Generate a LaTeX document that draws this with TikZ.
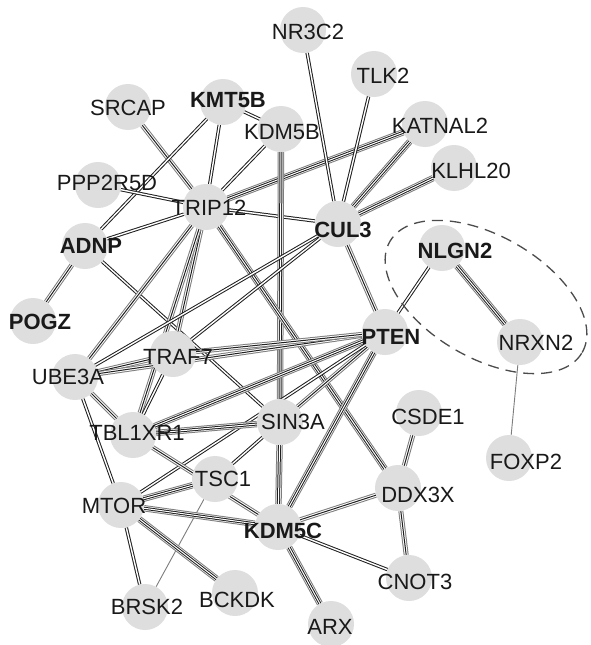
\documentclass[tikz,border=0pt]{standalone}
\usepackage{fontspec}
\setmainfont{Liberation Sans}
\usetikzlibrary{backgrounds,shapes.geometric}
\definecolor{nodefill}{RGB}{222,222,222}
\definecolor{txt}{RGB}{25,25,25}
\definecolor{lg}{RGB}{125,125,125}
\definecolor{dk}{RGB}{30,30,30}
\begin{document}
\begin{tikzpicture}[x=1pt,y=-1pt,
  gene/.style={circle, fill=nodefill, minimum size=46pt, inner sep=0pt},
  lbl/.style={inner sep=0pt, text=txt, font=\fontsize{22}{24}\selectfont},
  blbl/.style={inner sep=0pt, text=txt, font=\fontsize{22}{24}\selectfont\bfseries},
  eone/.style={draw=lg, line width=0.9pt},
  etwo/.style={draw=dk, line width=1.0pt, double=white, double distance=1.4pt},
  ethree/.style={draw=lg, line width=1.0pt, double=white, double distance=3.0pt,
    postaction={draw=dk, line width=1.0pt, double=none}},
  efour/.style={draw=lg, line width=1.0pt, double=white, double distance=4.4pt,
    postaction={draw=dk, line width=1.0pt, double=white, double distance=1.0pt}},
  grp/.style={draw=black!70, ellipse, dash pattern=on 11pt off 7pt, line width=1.3pt,
    minimum width=222pt, minimum height=122pt, inner sep=0pt}
]
\useasboundingbox (0,0) rectangle (590,645);

% gene circles
\node[gene] (NRthreeC2) at (303,30) {};
\node[gene] (TLK2) at (374,74) {};
\node[gene] (SRCAP) at (128,107) {};
\node[gene] (KMT5B) at (223,102) {};
\node[gene] (KDM5B) at (281,129) {};
\node[gene] (KATNAL2) at (425,124) {};
\node[gene] (PPP2R5D) at (98,185) {};
\node[gene] (KLHL20) at (454,168) {};
\node[gene] (TRIP12) at (206,207) {};
\node[gene] (CUL3) at (338,224) {};
\node[gene] (ADNP) at (85,246) {};
\node[gene] (NLGN2) at (442,248) {};
\node[gene] (POGZ) at (33,321) {};
\node[gene] (PTEN) at (385,332) {};
\node[gene] (NRXN2) at (520,342) {};
\node[gene] (TRAF7) at (173,354) {};
\node[gene] (UBE3A) at (75,377) {};
\node[gene] (TBL1XR1) at (133,435) {};
\node[gene] (SIN3A) at (280,422) {};
\node[gene] (CSDE1) at (419,413) {};
\node[gene] (FOXP2) at (509,458) {};
\node[gene] (TSC1) at (215,479) {};
\node[gene] (DDX3X) at (398,488) {};
\node[gene] (MTOR) at (121,505) {};
\node[gene] (KDM5C) at (278,527) {};
\node[gene] (CNOT3) at (409,578) {};
\node[gene] (BRSK2) at (145,607) {};
\node[gene] (BCKDK) at (235,593) {};
\node[gene] (ARX) at (331,624) {};

% group outline
\node[grp, rotate=-30] (group) at (486,297) {};

% labels
\node[lbl] (tNR3C2) at (308,32) {NR3C2};
\node[lbl] (tTLK2) at (383,76) {TLK2};
\node[lbl] (tSRCAP) at (128,108) {SRCAP};
\node[blbl] (tKMT5B) at (228,100) {KMT5B};
\node[lbl] (tKDM5B) at (282,132) {KDM5B};
\node[lbl] (tKATNAL2) at (440,126) {KATNAL2};
\node[lbl] (tPPP2R5D) at (107,183) {PPP2R5D};
\node[lbl] (tKLHL20) at (471,171) {KLHL20};
\node[lbl] (tTRIP12) at (209,208) {TRIP12};
\node[blbl] (tCUL3) at (343,230) {CUL3};
\node[blbl] (tADNP) at (91,246) {ADNP};
\node[blbl] (tNLGN2) at (455,251) {NLGN2};
\node[blbl] (tPOGZ) at (40,322) {POGZ};
\node[blbl] (tPTEN) at (391,337) {PTEN};
\node[lbl] (tNRXN2) at (536,343) {NRXN2};
\node[lbl] (tTRAF7) at (178,357) {TRAF7};
\node[lbl] (tUBE3A) at (68,377) {UBE3A};
\node[lbl] (tTBL1XR1) at (137,433) {TBL1XR1};
\node[lbl] (tSIN3A) at (293,422) {SIN3A};
\node[lbl] (tCSDE1) at (428,417) {CSDE1};
\node[lbl] (tFOXP2) at (526,462) {FOXP2};
\node[lbl] (tTSC1) at (223,479) {TSC1};
\node[lbl] (tDDX3X) at (418,495) {DDX3X};
\node[lbl] (tMTOR) at (114,506) {MTOR};
\node[blbl] (tKDM5C) at (283,531) {KDM5C};
\node[lbl] (tCNOT3) at (415,582) {CNOT3};
\node[lbl] (tBRSK2) at (147,607) {BRSK2};
\node[lbl] (tBCKDK) at (237,600) {BCKDK};
\node[lbl] (tARX) at (330,627) {ARX};

\begin{scope}[on background layer]
\fill[white] (0,0) rectangle (590,645);
% edges
\draw[ethree] (SRCAP) -- (TRIP12);
\draw[etwo] (KMT5B) -- (ADNP);
\draw[etwo] (KMT5B) -- (TRIP12);
\draw[etwo] (KMT5B) -- (KDM5B);
\draw[etwo] (KDM5B) -- (TRIP12);
\draw[etwo] (PPP2R5D) -- (TRIP12);
\draw[efour] (TRIP12) -- (KATNAL2);
\draw[etwo] (TRIP12) -- (CUL3);
\draw[efour] (KDM5B) -- (SIN3A);
\draw[etwo] (NRthreeC2) -- (CUL3);
\draw[etwo] (TLK2) -- (CUL3);
\draw[efour] (KATNAL2) -- (CUL3);
\draw[efour] (KLHL20) -- (CUL3);
\draw[etwo] (ADNP) -- (TRIP12);
\draw[ethree] (ADNP) -- (POGZ);
\draw[etwo] (ADNP) -- (SIN3A);
\draw[ethree] (TRIP12) -- (UBE3A);
\draw[ethree] (TRIP12) -- (TRAF7);
\draw[ethree] (TRIP12) -- (TBL1XR1);
\draw[efour] (TRIP12) -- (DDX3X);
\draw[ethree] (UBE3A) -- (TRAF7);
\draw[ethree] (UBE3A) -- (PTEN);
\draw[etwo] (UBE3A) -- (CUL3);
\draw[ethree] (UBE3A) -- (TBL1XR1);
\draw[etwo] (UBE3A) -- (MTOR);
\draw[etwo] (TRAF7) -- (CUL3);
\draw[ethree] (TRAF7) -- (PTEN);
\draw[etwo] (TRAF7) -- (TBL1XR1);
\draw[ethree] (CUL3) -- (PTEN);
\draw[etwo] (NLGN2) -- (PTEN);
\draw[efour] (NLGN2) -- (NRXN2);
\draw[eone] (NRXN2) -- (FOXP2);
\draw[efour] (PTEN) -- (TBL1XR1);
\draw[ethree] (PTEN) -- (SIN3A);
\draw[etwo] (PTEN) -- (MTOR);
\draw[efour] (PTEN) -- (KDM5C);
\draw[efour] (TBL1XR1) -- (SIN3A);
\draw[ethree] (TBL1XR1) -- (KDM5C);
\draw[etwo] (TSC1) -- (SIN3A);
\draw[efour] (TSC1) -- (MTOR);
\draw[eone] (TSC1) -- (BRSK2);
\draw[efour] (MTOR) -- (KDM5C);
\draw[etwo] (MTOR) -- (BRSK2);
\draw[efour] (MTOR) -- (BCKDK);
\draw[efour] (SIN3A) -- (KDM5C);
\draw[ethree] (KDM5C) -- (DDX3X);
\draw[etwo] (KDM5C) -- (CNOT3);
\draw[efour] (KDM5C) -- (ARX);
\draw[ethree] (DDX3X) -- (CSDE1);
\draw[ethree] (DDX3X) -- (CNOT3);
\end{scope}
\end{tikzpicture}
\end{document}
